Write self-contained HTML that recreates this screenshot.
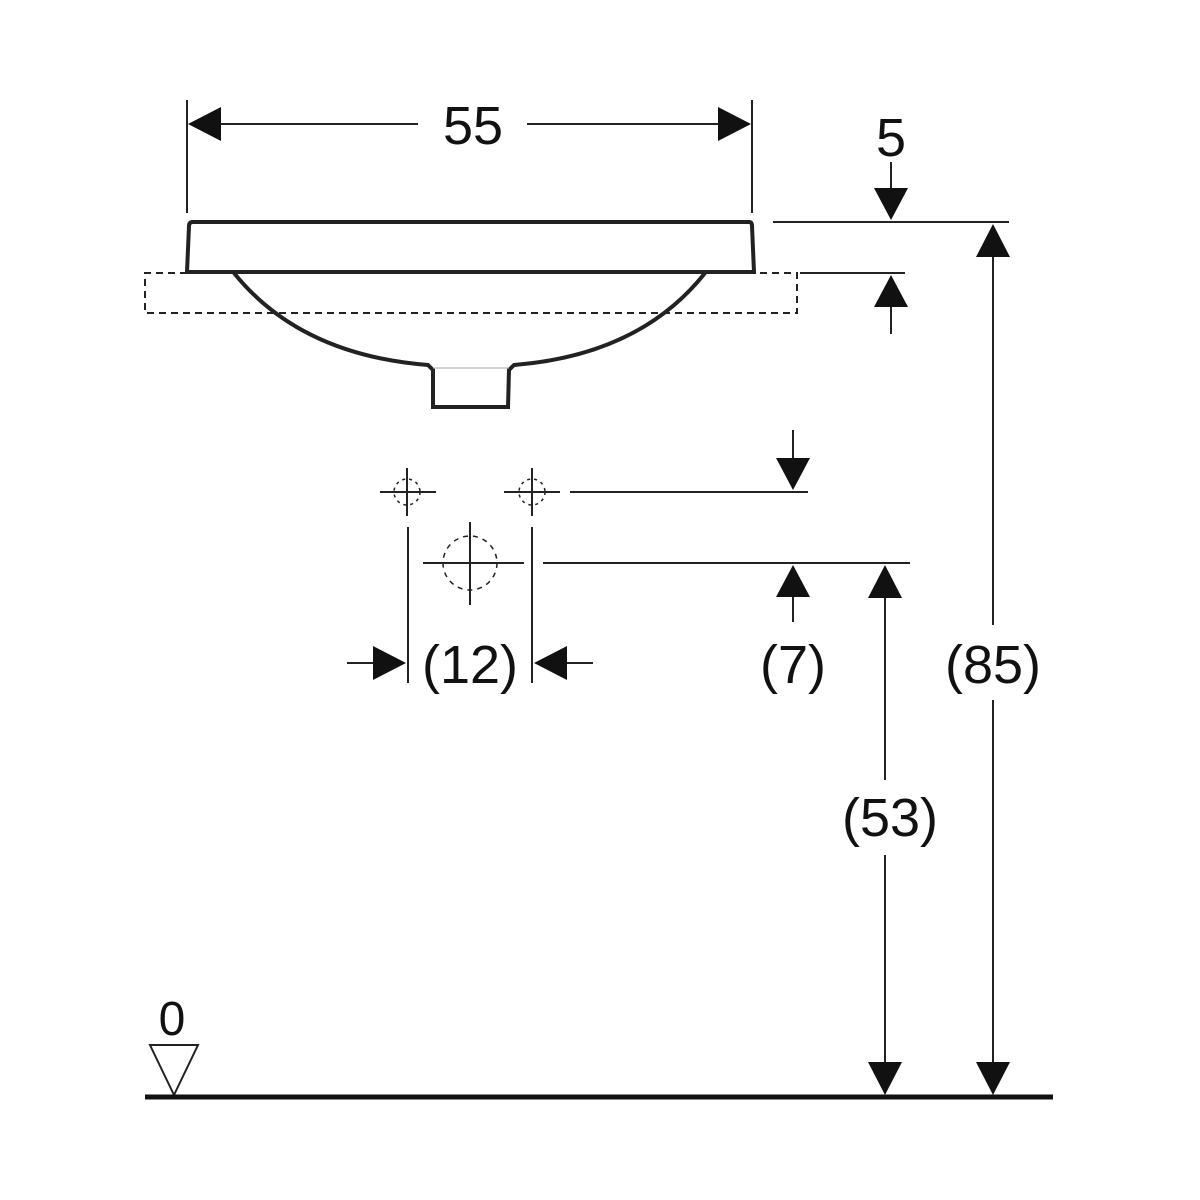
<!DOCTYPE html>
<html><head><meta charset="utf-8"><style>html,body{margin:0;padding:0;background:#fff}svg{display:block}text{font-family:"Liberation Sans",sans-serif;fill:#111}</style></head>
<body>
<svg width="1200" height="1200" viewBox="0 0 1200 1200" xmlns="http://www.w3.org/2000/svg">
<g stroke="#222" fill="none" stroke-width="2">
<!-- 55 dimension -->
<line x1="187" y1="100" x2="187" y2="213"/>
<line x1="752" y1="100" x2="752" y2="213"/>
<line x1="220" y1="124" x2="418" y2="124"/>
<line x1="527" y1="124" x2="720" y2="124"/>
<!-- sink rim -->
<path d="M191 222 L749 222 Q752 222 752 226 L754 272 L187 272 L189 226 Q189 222 193 222 Z" stroke-width="4"/>
<!-- dashed counter -->
<path d="M187 273 L145 273 L145 313 L797 313 L797 273 L754 273" stroke-dasharray="7,5"/>
<!-- bowl -->
<path d="M234 273 Q300 355 428 365 L433 370 L433 407 L508 407 L509 370 L514 365 Q640 355 705 273" stroke-width="4"/>
<line x1="433" y1="368" x2="509" y2="368" stroke-width="1" stroke="#aaa"/>
<!-- small crosshairs -->
<line x1="380" y1="492" x2="436" y2="492"/><line x1="407" y1="468" x2="407" y2="516"/>
<circle cx="407" cy="492" r="13" stroke-dasharray="3,4" stroke-width="1.5"/>
<line x1="504" y1="492" x2="560" y2="492"/><line x1="532" y1="468" x2="532" y2="516"/>
<circle cx="532" cy="492" r="13" stroke-dasharray="3,4" stroke-width="1.5"/>
<line x1="570" y1="492" x2="808" y2="492"/>
<!-- big hole -->
<circle cx="470" cy="563" r="27" stroke-dasharray="5,5" stroke-width="1.5"/>
<line x1="423" y1="563" x2="524" y2="563"/><line x1="470" y1="522" x2="470" y2="605"/>
<line x1="543" y1="563" x2="910" y2="563"/>
<!-- 12 dimension -->
<line x1="408" y1="527" x2="408" y2="683"/>
<line x1="532" y1="527" x2="532" y2="683"/>
<line x1="347" y1="663" x2="375" y2="663"/>
<line x1="565" y1="663" x2="593" y2="663"/>
<!-- 7 dims -->
<line x1="793" y1="430" x2="793" y2="460"/>
<line x1="793" y1="597" x2="793" y2="622"/>
<!-- 5 dims -->
<line x1="773" y1="222" x2="1009" y2="222"/>
<line x1="800" y1="273" x2="905" y2="273"/>
<line x1="891" y1="162" x2="891" y2="188"/>
<line x1="891" y1="306" x2="891" y2="334"/>
<!-- 85 -->
<line x1="993" y1="255" x2="993" y2="625"/>
<line x1="993" y1="700" x2="993" y2="1064"/>
<!-- 53 -->
<line x1="885" y1="597" x2="885" y2="780"/>
<line x1="885" y1="855" x2="885" y2="1064"/>
<!-- ground triangle -->
<path d="M150 1045 L198 1045 L174 1095 Z"/>
</g>
<line x1="145" y1="1097" x2="1053" y2="1097" stroke="#111" stroke-width="5"/>
<g fill="#111">
<path d="M188 124 L221 107 L221 141 Z"/>
<path d="M751 124 L718 107 L718 141 Z"/>
<path d="M891 220 L874 188 L908 188 Z"/>
<path d="M891 275 L874 307 L908 307 Z"/>
<path d="M993 224 L976 257 L1010 257 Z"/>
<path d="M993 1095 L976 1062 L1010 1062 Z"/>
<path d="M885 565 L868 598 L902 598 Z"/>
<path d="M885 1095 L868 1062 L902 1062 Z"/>
<path d="M793 490 L776 458 L810 458 Z"/>
<path d="M793 565 L776 597 L810 597 Z"/>
<path d="M406 663 L373 646 L373 680 Z"/>
<path d="M534 663 L567 646 L567 680 Z"/>
</g>
<g font-size="54" text-anchor="middle">
<text x="473" y="144">55</text>
<text x="891" y="156">5</text>
<text x="470" y="683">(12)</text>
<text x="793" y="683">(7)</text>
<text x="993" y="683">(85)</text>
<text x="890" y="836">(53)</text>
<text x="172" y="1035" font-size="48">0</text>
</g>
</svg>
</body></html>
